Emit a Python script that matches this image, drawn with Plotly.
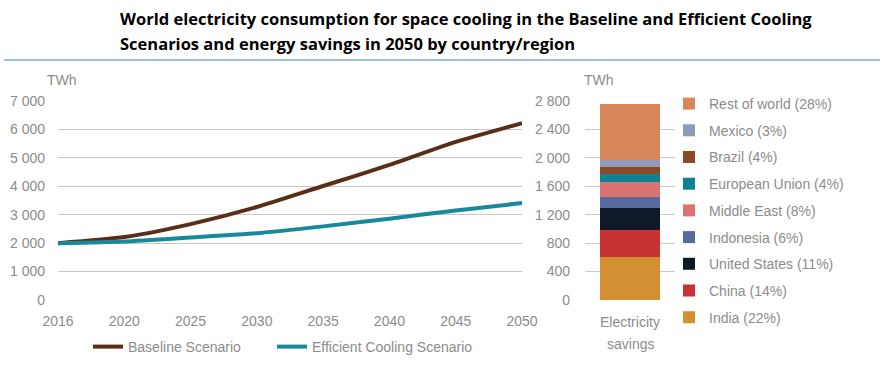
import plotly.graph_objects as go

W, H = 887, 367

years = ["2016", "2020", "2025", "2030", "2035", "2040", "2045", "2050"]
baseline = [2000, 2215, 2670, 3270, 4010, 4750, 5560, 6220]
efficient = [2000, 2060, 2200, 2350, 2590, 2860, 3150, 3410]

regions = ["India (22%)", "China (14%)", "United States (11%)", "Indonesia (6%)",
           "Middle East (8%)", "European Union (4%)", "Brazil (4%)", "Mexico (3%)",
           "Rest of world (28%)"]
savings = [600, 380, 310, 155, 220, 107, 103, 93, 790]
region_colors = ["#D39033", "#C83232", "#0E1828", "#566A9C", "#DA7472",
                 "#0E8193", "#8A4A26", "#8E9BBA", "#D88659"]
bar_category = "Electricity savings"
bar_label_lines = ["Electricity", "savings"]

left_ticks = [0, 1000, 2000, 3000, 4000, 5000, 6000, 7000]
right_ticks = [0, 400, 800, 1200, 1600, 2000, 2400, 2800]


def px(x):
    return x / W


def py(y):
    return (H - y) / H


FONT = "Liberation Sans"
GRAY = "#8C8C8C"
GRID = "#C8C8C8"

fig = go.Figure()

fig.add_trace(go.Scatter(x=years, y=baseline, mode="lines", name="Baseline Scenario",
                         line=dict(color="#5A2D16", width=4, shape="spline", smoothing=0.6),
                         xaxis="x", yaxis="y", legend="legend"))
fig.add_trace(go.Scatter(x=years, y=efficient, mode="lines", name="Efficient Cooling Scenario",
                         line=dict(color="#17899A", width=4, shape="spline", smoothing=0.6),
                         xaxis="x", yaxis="y", legend="legend3"))

n = len(regions)
for i, (r, v, c) in enumerate(zip(regions, savings, region_colors)):
    fig.add_trace(go.Bar(x=[bar_category], y=[v], name=r,
                         marker=dict(color=c, line=dict(width=0)),
                         xaxis="x2", yaxis="y2", legend="legend2", legendgroup=r,
                         legendrank=100 + (n - i)))

ydom = [py(300), py(101)]


def tickfmt(v):
    return f"{v:,}".replace(",", " ")


fig.update_layout(
    width=W, height=H,
    margin=dict(l=0, r=0, t=0, b=0, autoexpand=False),
    paper_bgcolor="white", plot_bgcolor="white",
    font=dict(family=FONT, size=14, color=GRAY),
    barmode="stack", bargap=0.34,
    xaxis=dict(domain=[px(58), px(522)], type="category", range=[0, 7],
               showgrid=False, zeroline=False, showline=False, ticks="",
               ticklabelstandoff=11, tickfont=dict(family=FONT, size=14, color=GRAY), anchor="y"),
    yaxis=dict(domain=ydom, range=[0, 7000], tickvals=left_ticks,
               ticktext=[tickfmt(v) for v in left_ticks],
               showgrid=True, gridcolor=GRID, gridwidth=1, zeroline=False, showline=False,
               ticklabelstandoff=12, tickfont=dict(family=FONT, size=14, color=GRAY), anchor="x"),
    xaxis2=dict(domain=[px(585), px(675)], showgrid=False, zeroline=False, showline=False,
                ticks="", showticklabels=False, anchor="y2"),
    yaxis2=dict(domain=ydom, range=[0, 2800], tickvals=right_ticks,
                ticktext=[tickfmt(v) for v in right_ticks],
                showgrid=True, gridcolor=GRID, gridwidth=1, zeroline=False, showline=False,
                ticklabelstandoff=14, tickfont=dict(family=FONT, size=14, color=GRAY), anchor="x2"),
    legend=dict(orientation="h", x=px(88), y=py(347), xanchor="left", yanchor="middle",
                font=dict(family=FONT, size=14, color=GRAY), bgcolor="rgba(0,0,0,0)", itemwidth=30),
    legend3=dict(orientation="h", x=px(272), y=py(347), xanchor="left", yanchor="middle",
                 font=dict(family=FONT, size=14, color=GRAY), bgcolor="rgba(0,0,0,0)", itemwidth=30),
    legend2=dict(orientation="v", x=px(669), y=py(88), xanchor="left", yanchor="top",
                 traceorder="grouped", tracegroupgap=5.5,
                 font=dict(family=FONT, size=14, color=GRAY), bgcolor="rgba(0,0,0,0)", itemwidth=30),
    showlegend=True,
)

fig.add_annotation(text="TWh", x=px(62), y=py(80), xref="paper", yref="paper",
                   xanchor="center", yanchor="middle",
                   showarrow=False, font=dict(family=FONT, size=14, color=GRAY))
fig.add_annotation(text="TWh", x=px(599), y=py(80), xref="paper", yref="paper",
                   xanchor="center", yanchor="middle",
                   showarrow=False, font=dict(family=FONT, size=14, color=GRAY))

for k, line in enumerate(bar_label_lines):
    fig.add_annotation(text=line, x=px(630), y=py(322 + 22 * k), xref="paper", yref="paper",
                       xanchor="center", yanchor="middle",
                       showarrow=False, font=dict(family=FONT, size=14, color=GRAY))

fig.add_annotation(text="<b>World electricity consumption for space cooling in the Baseline and Efficient Cooling</b>",
                   x=px(118), y=py(18.5), xref="paper", yref="paper", xanchor="left", yanchor="middle",
                   showarrow=False, font=dict(family="Open Sans", size=16.5, color="#000000"))
fig.add_annotation(text="<b>Scenarios and energy savings in 2050 by country/region</b>",
                   x=px(118), y=py(43.5), xref="paper", yref="paper", xanchor="left", yanchor="middle",
                   showarrow=False, font=dict(family="Open Sans", size=16.5, color="#000000"))

fig.add_shape(type="line", xref="paper", yref="paper", x0=px(4), x1=px(880), y0=py(60), y1=py(60),
              line=dict(color="#3F7FA8", width=1.2))

fig.write_html("out.html", config={"displayModeBar": False},
               post_script="document.body.style.margin='0';document.body.style.padding='0';")
